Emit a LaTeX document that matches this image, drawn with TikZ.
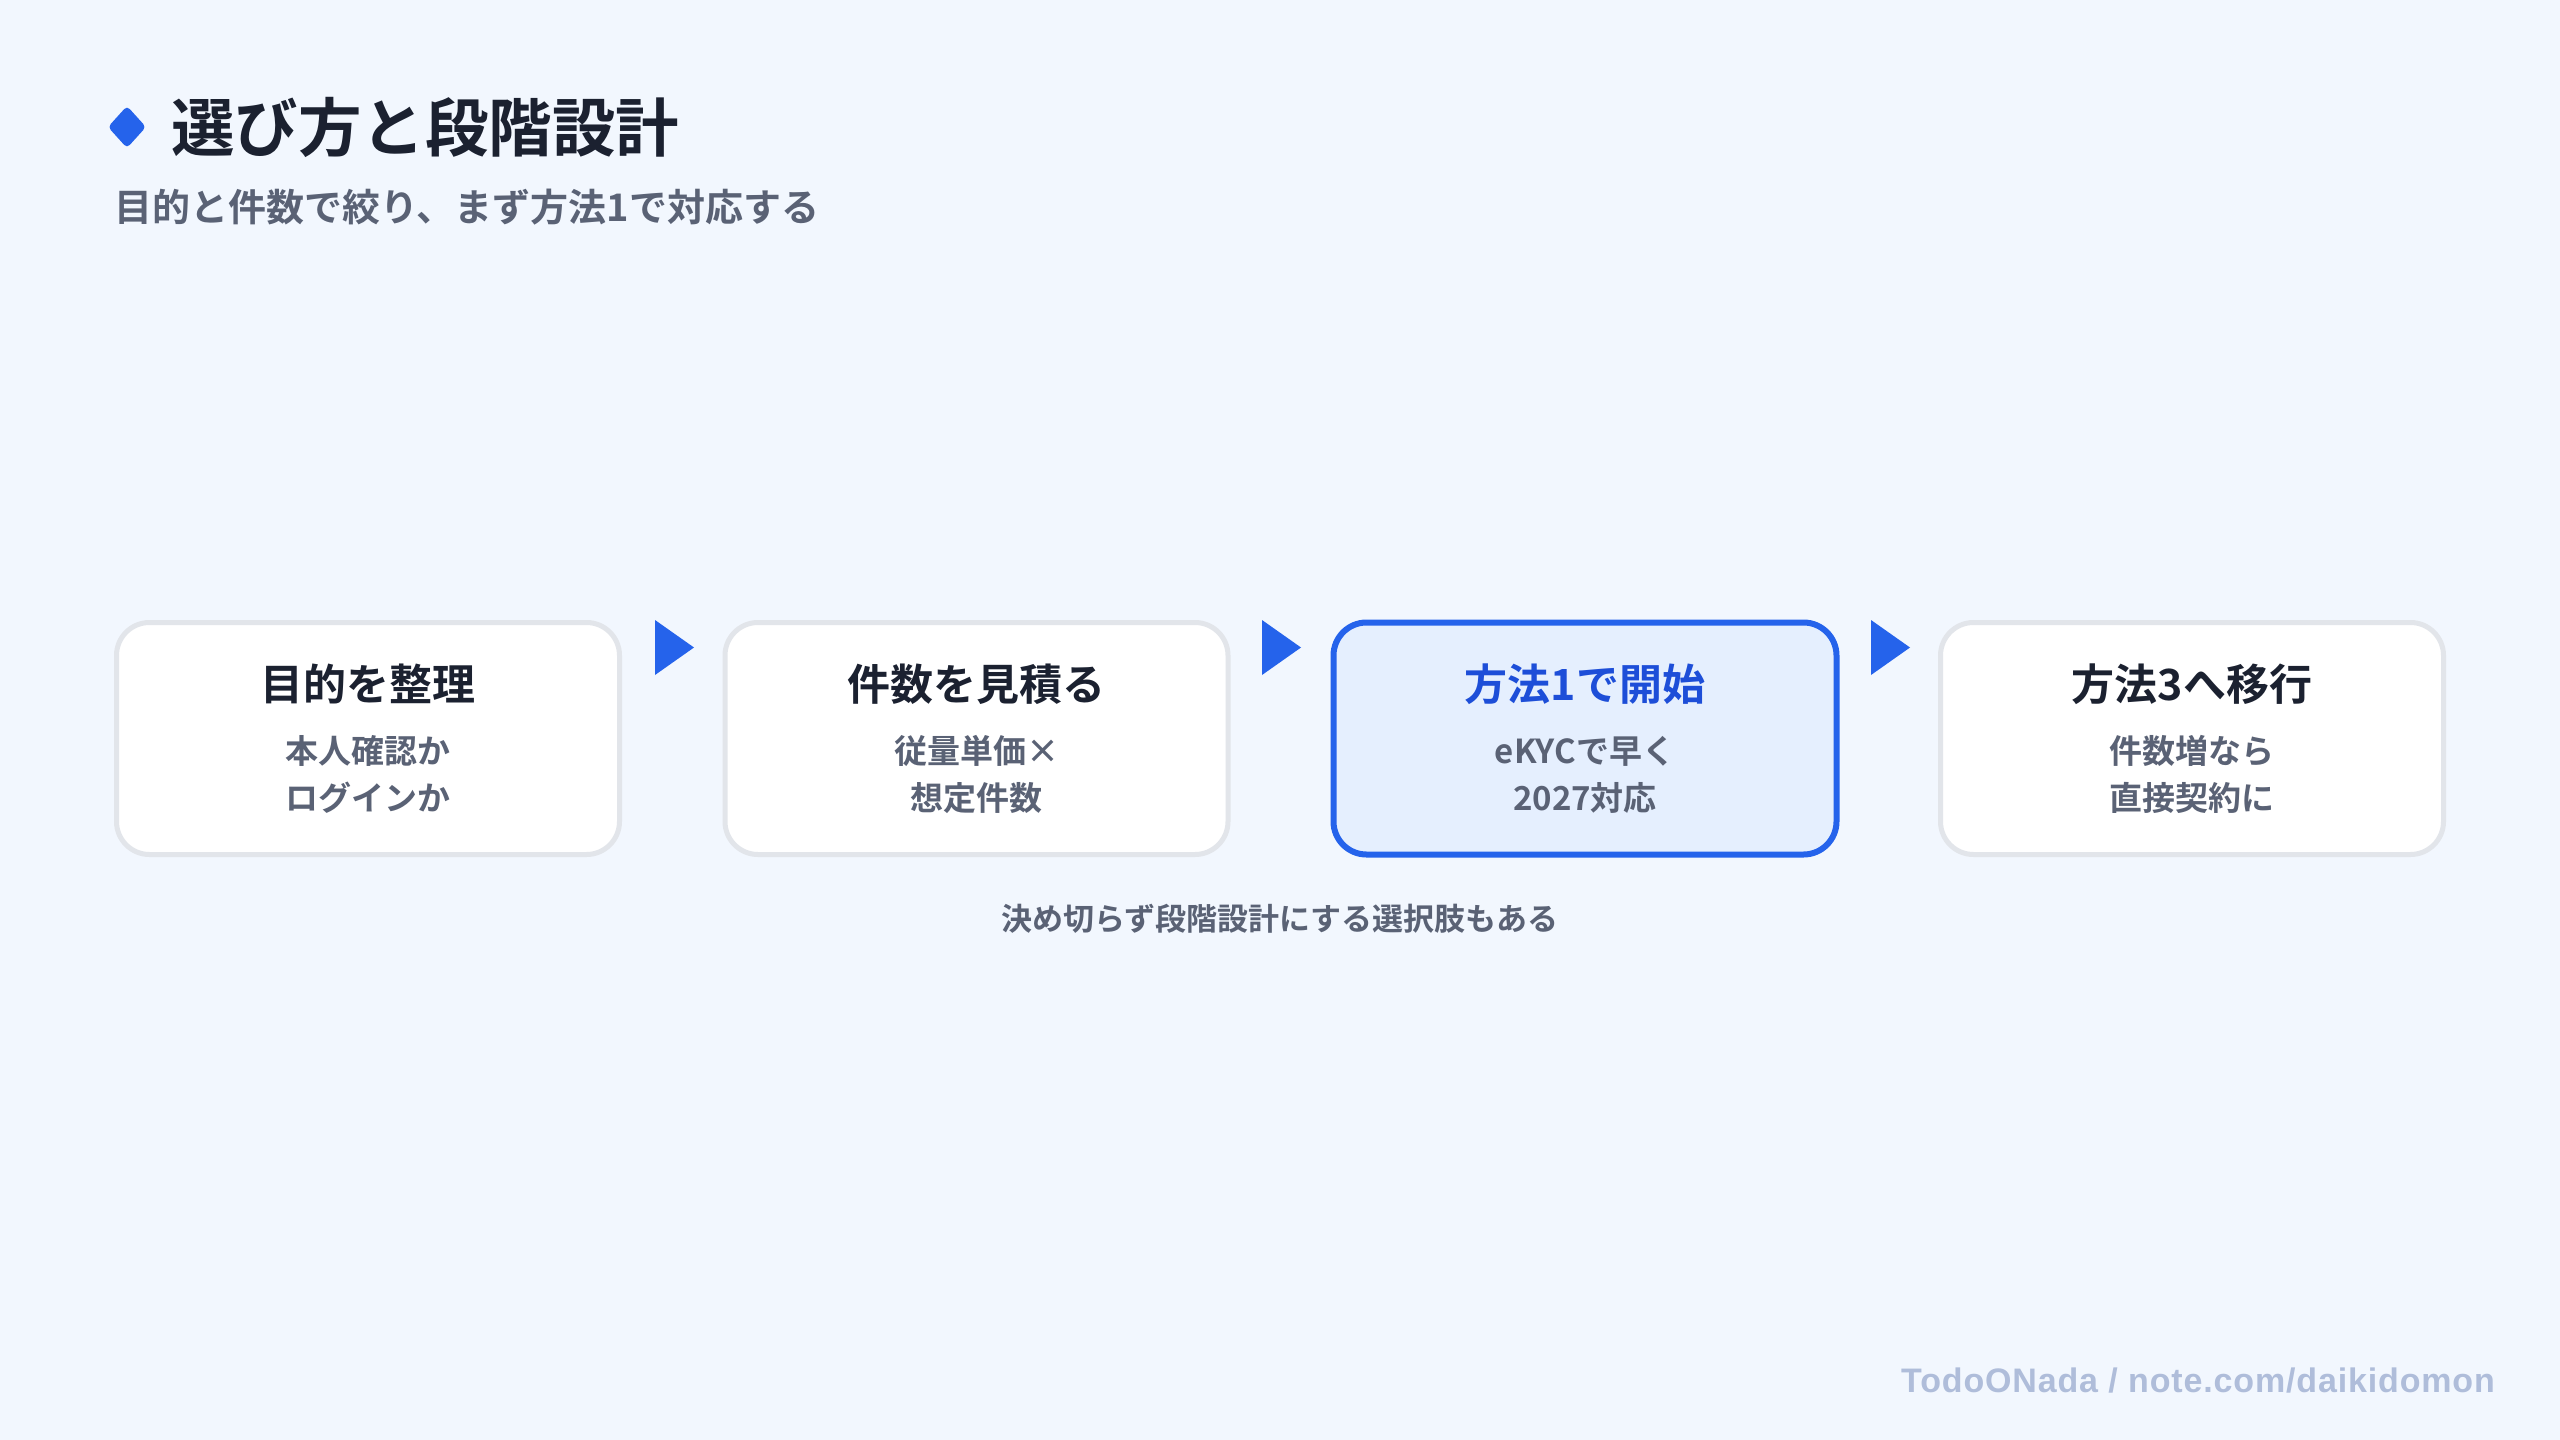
\documentclass[tikz,border=0pt]{standalone}
\usepackage{fontspec}
\setmainfont{Noto Sans CJK JP}[BoldFont={* Bold}]
\newfontfamily\footfont{Liberation Sans}[LetterSpace=2.5]
\definecolor{bg}{HTML}{F2F7FE}
\definecolor{accent}{HTML}{2563EB}
\definecolor{ink}{HTML}{1B2130}
\definecolor{muted}{HTML}{5A6275}
\definecolor{cardline}{HTML}{E2E5EA}
\definecolor{hlfill}{HTML}{E5EFFE}
\definecolor{hlink}{HTML}{1D4ED8}
\definecolor{foot}{HTML}{AFBDDA}
\tikzset{
  card/.style={draw=cardline, line width=5pt, fill=white, rounded corners=33pt,
    minimum width=503pt, minimum height=232pt, inner sep=0pt},
  hlcard/.style={card, draw=accent, line width=6pt, fill=hlfill},
  cardtitle/.style={anchor=base, inner sep=0pt, text=ink, font=\fontsize{43}{50}\selectfont\bfseries},
  cardline1/.style={anchor=base, inner sep=0pt, text=muted, font=\fontsize{33}{40}\selectfont\bfseries},
  tri/.style={fill=accent}
}
\begin{document}
\begin{tikzpicture}[x=1pt,y=-1pt]
\useasboundingbox (0,0) rectangle (2560,1440);
\fill[bg] (0,0) rectangle (2560,1440);
% heading
\fill[accent, rounded corners=4pt] (127,106) -- (146,127) -- (127,148) -- (108,127) -- cycle;
\node[anchor=base west, inner sep=0pt, text=ink, font=\fontsize{63.5}{70}\selectfont\bfseries] (title) at (171,151) {選び方と段階設計};
\node[anchor=base west, inner sep=0pt, text=muted, font=\fontsize{38}{44}\selectfont\bfseries] (subtitle) at (114,221) {目的と件数で絞り、まず方法1で対応する};
% cards
\node[card] (b1) at (368,738.5) {};
\node[card] (b2) at (976.5,738.5) {};
\node[hlcard] (b3) at (1585,738.5) {};
\node[card] (b4) at (2192,738.5) {};
\node[cardtitle] (t1) at (368,700) {目的を整理};
\node[cardline1] (s1a) at (368,763.5) {本人確認か};
\node[cardline1] (s1b) at (368,810.5) {ログインか};
\node[cardtitle] (t2) at (976.5,700) {件数を見積る};
\node[cardline1] (s2a) at (976.5,763.5) {従量単価×};
\node[cardline1] (s2b) at (976.5,810.5) {想定件数};
\node[cardtitle, text=hlink] (t3) at (1585,700) {方法1で開始};
\node[cardline1] (s3a) at (1585,763.5) {eKYCで早く};
\node[cardline1] (s3b) at (1585,810.5) {2027対応};
\node[cardtitle] (t4) at (2192,700) {方法3へ移行};
\node[cardline1] (s4a) at (2192,763.5) {件数増なら};
\node[cardline1] (s4b) at (2192,810.5) {直接契約に};
% arrows
\foreach \x in {655,1262,1871}{
  \fill[tri] (\x,620) -- (\x+39,647.5) -- (\x,675) -- cycle;
}
% caption
\node[anchor=base, inner sep=0pt, text=muted, font=\fontsize{31}{36}\selectfont\bfseries] (cap) at (1280,930) {決め切らず段階設計にする選択肢もある};
% footer
\node[anchor=base east, inner sep=0pt, text=foot, font=\footfont\fontsize{34}{40}\selectfont\bfseries] (footer) at (2495,1392) {TodoONada / note.com/daikidomon};
\end{tikzpicture}
\end{document}
